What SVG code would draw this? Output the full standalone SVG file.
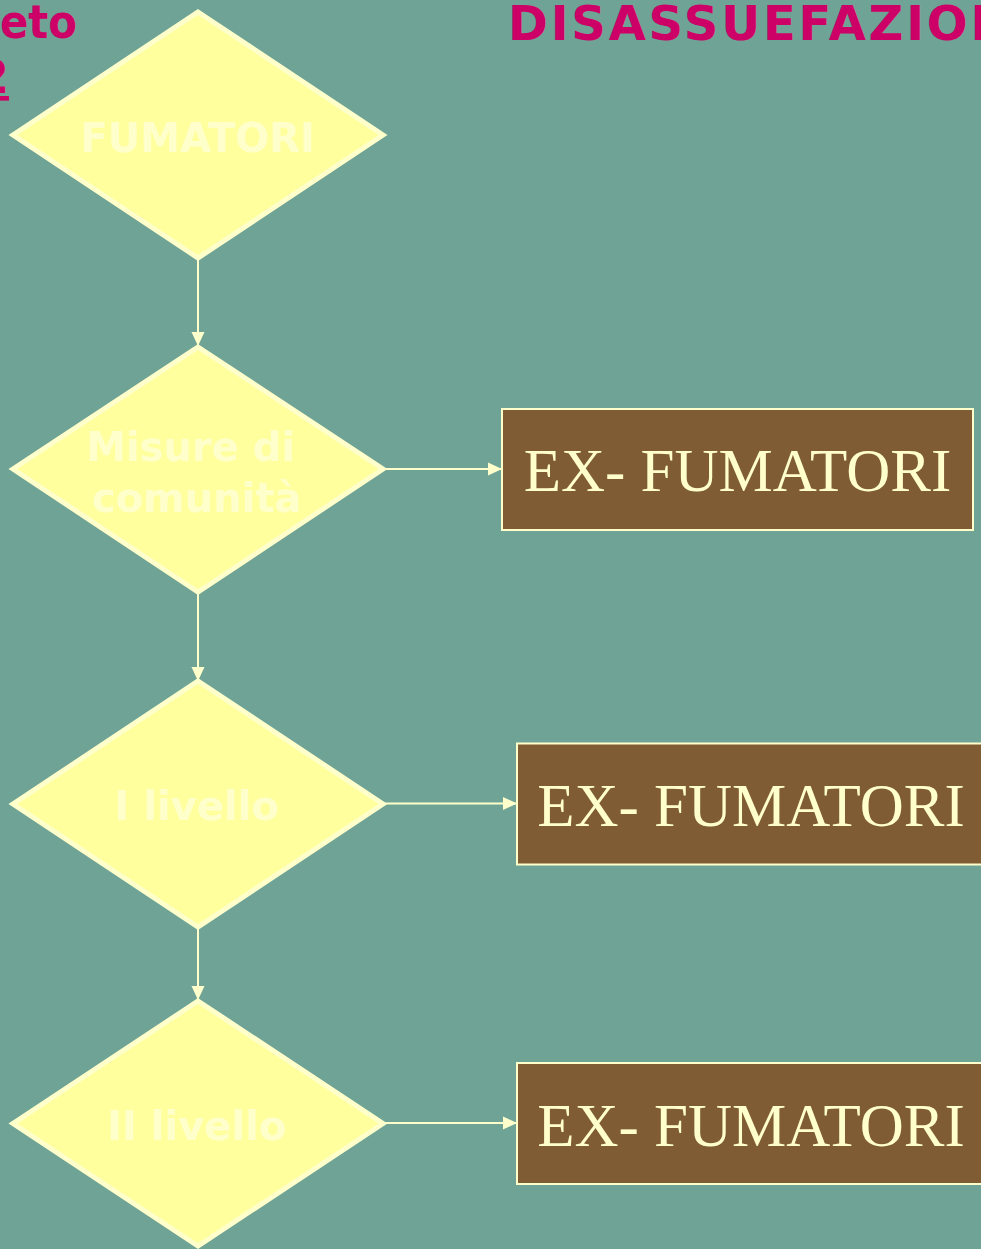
<svg xmlns="http://www.w3.org/2000/svg" width="981" height="1249" viewBox="0 0 981 1249">
<defs>
<style>
.bg{fill:#6FA396}
.dia{fill:#FFFF9E;stroke:#FFFFCC;stroke-width:5;stroke-linejoin:miter}
.dtxt{font-family:"DejaVu Sans","Verdana",sans-serif;font-weight:bold;font-size:40px;fill:#FFFFCC;text-anchor:middle}
.box{fill:#7F5C33;stroke:#FFFFCC;stroke-width:2}
.btxt{font-family:"Liberation Serif","Times New Roman",serif;font-size:61px;fill:#FFFFCC;text-anchor:middle}
.conn{stroke:#FFFFCC;stroke-width:2;fill:none}
.title{font-family:"DejaVu Sans","Verdana",sans-serif;font-weight:bold;fill:#CC0066}
</style>
<marker id="arr" markerUnits="userSpaceOnUse" markerWidth="14" markerHeight="14" viewBox="0 0 14 14" refX="14" refY="7" orient="auto">
<path d="M0,0.5 L14,7 L0,13.5 Z" fill="#FFFFCC"/>
</marker>
</defs>
<rect class="bg" x="0" y="0" width="981" height="1249"/>

<g id="title">
<text class="title" x="0" y="38" font-size="46" textLength="77" lengthAdjust="spacingAndGlyphs">eto</text>
<text class="title" x="9" y="93" font-size="46" text-anchor="end" text-decoration="underline">2</text>
<text class="title" x="508" y="40" font-size="48" letter-spacing="2.8">DISASSUEFAZION</text>
</g>

<g id="connectors">
<line class="conn" x1="198" y1="259" x2="198" y2="346" marker-end="url(#arr)"/>
<line class="conn" x1="198" y1="593" x2="198" y2="681" marker-end="url(#arr)"/>
<line class="conn" x1="198" y1="928" x2="198" y2="1000" marker-end="url(#arr)"/>
<line class="conn" x1="383" y1="469" x2="502" y2="469" marker-end="url(#arr)"/>
<line class="conn" x1="383" y1="803.5" x2="517" y2="803.5" marker-end="url(#arr)"/>
<line class="conn" x1="383" y1="1123" x2="517" y2="1123" marker-end="url(#arr)"/>
</g>

<g id="node-fumatori">
<polygon class="dia" points="198,12 383,135 198,258 13,135"/>
<text class="dtxt" x="198" y="152">FUMATORI</text>
</g>

<g id="node-misure">
<polygon class="dia" points="198,347 383,469 198,592 13,469"/>
<text class="dtxt" x="191" y="461">Misure di</text>
<text class="dtxt" x="197" y="512">comunità</text>
</g>

<g id="node-livello1">
<polygon class="dia" points="198,681 383,804 198,927 13,804"/>
<text class="dtxt" x="197" y="820">I livello</text>
</g>

<g id="node-livello2">
<polygon class="dia" points="198,1001 383,1123.5 198,1246 13,1123.5"/>
<text class="dtxt" x="197" y="1140">II livello</text>
</g>

<g id="node-ex1">
<rect class="box" x="502" y="409" width="471" height="121"/>
<text class="btxt" x="737.5" y="491">EX- FUMATORI</text>
</g>

<g id="node-ex2">
<rect class="box" x="517" y="743.5" width="470" height="121"/>
<text class="btxt" x="751" y="826">EX- FUMATORI</text>
</g>

<g id="node-ex3">
<rect class="box" x="517" y="1063" width="470" height="121"/>
<text class="btxt" x="751" y="1145.5">EX- FUMATORI</text>
</g>
</svg>
